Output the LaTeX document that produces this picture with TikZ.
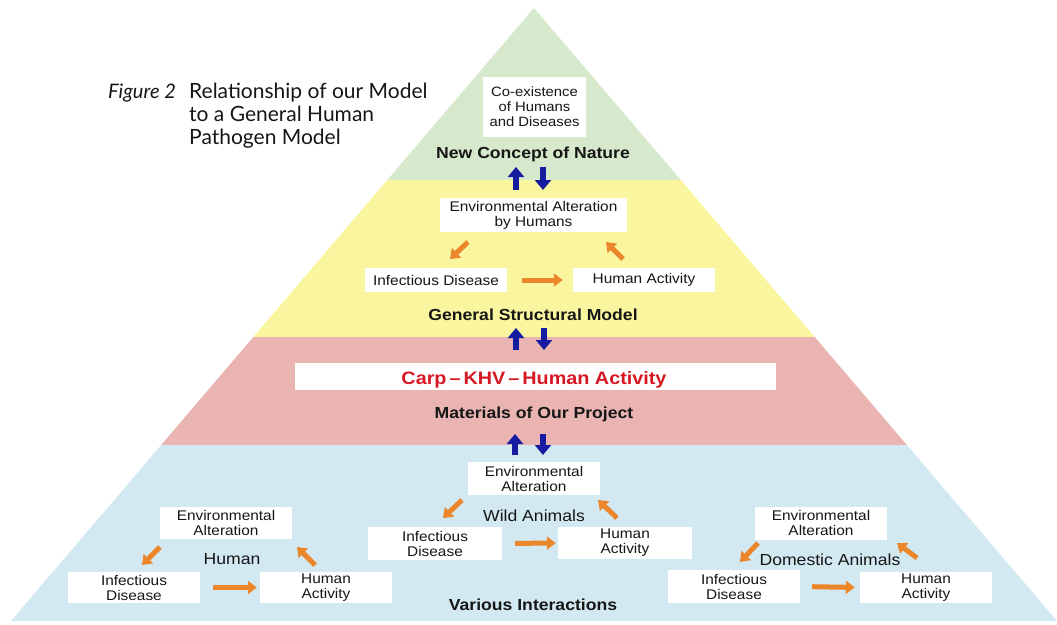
\documentclass[tikz,border=0pt]{standalone}
\usepackage{fontspec}
\setmainfont{Liberation Sans}[FakeStretch=1.1]
\newfontfamily\titlefont{Lato}
\usetikzlibrary{arrows.meta}

\definecolor{bandgreen}{RGB}{214,233,204}
\definecolor{bandyellow}{RGB}{250,246,160}
\definecolor{bandpink}{RGB}{233,180,178}
\definecolor{bandblue}{RGB}{211,233,242}
\definecolor{ink}{RGB}{22,22,22}
\definecolor{flow}{RGB}{236,134,42}
\definecolor{link}{RGB}{22,28,160}
\definecolor{carpred}{RGB}{214,24,36}

\tikzset{
  whitebox/.style={fill=white, inner sep=0pt, align=center, text=ink,
    font=\fontsize{14}{15}\selectfont},
  levelname/.style={anchor=base, inner sep=0pt, text=ink,
    font=\fontsize{16}{18}\selectfont\bfseries},
  groupname/.style={anchor=base, inner sep=0pt, text=ink,
    font=\fontsize{16}{18}\selectfont},
  oarrow/.style={draw=flow, line width=5pt, -{Triangle[width=13pt,length=9pt]}},
  barrow/.style={draw=link, line width=6pt, -{Triangle[width=16pt,length=10pt]}},
}

\begin{document}
\begin{tikzpicture}[x=1pt, y=-1pt]
\useasboundingbox (0,0) rectangle (1057,624);

% pyramid bands
\begin{scope}
  \clip (534,8) -- (11,621) -- (1057,621) -- cycle;
  \fill[bandgreen]  (0,0)   rectangle (1057,180);
  \fill[bandyellow] (0,180) rectangle (1057,337);
  \fill[bandpink]   (0,337) rectangle (1057,445);
  \fill[bandblue]   (0,445) rectangle (1057,624);
\end{scope}

% title
\node[anchor=base west, inner sep=0pt, text=ink, font=\titlefont\fontsize{20}{23}\selectfont\itshape]
  (figlabel) at (108,98) {Figure 2};
\node[anchor=base west, inner sep=0pt, text=ink, font=\titlefont\fontsize{21}{23}\selectfont]
  (figtitle) at (189,98) {\begin{tabular}[t]{@{}l@{}}Relationship of our Model\\to a General Human\\Pathogen Model\end{tabular}};

% top level
\node[whitebox, minimum width=103pt, minimum height=60pt, font=\fontsize{13.5}{15}\selectfont]
  (coex) at (534.5,107) {Co-existence\\of Humans\\and Diseases};
\node[levelname] (nature) at (533,158) {New Concept of Nature};

\coordinate (b1u0) at (516,190); \coordinate (b1u1) at (516,167);
\coordinate (b1d0) at (543,167); \coordinate (b1d1) at (543,190);
\draw[barrow] (b1u0) -- (b1u1);
\draw[barrow] (b1d0) -- (b1d1);

% general structural model
\node[whitebox, minimum width=187pt, minimum height=34pt] (gea) at (533.5,215)
  {Environmental Alteration\\by Humans};
\node[whitebox, minimum width=142pt, minimum height=24pt] (gid) at (436,280) {Infectious Disease};
\node[whitebox, minimum width=142pt, minimum height=24pt] (gha) at (644,280) {Human Activity};
\node[levelname] (general) at (533,320) {General Structural Model};

\coordinate (g1a) at (468,242); \coordinate (g1b) at (450,259);
\coordinate (g2a) at (623,259); \coordinate (g2b) at (606,242);
\draw[oarrow] (g1a) -- (g1b);
\draw[oarrow] (g2a) -- (g2b);
\draw[oarrow, shorten <=15pt, shorten >=10pt] (gid.east) -- (gha.west);

\coordinate (b2u0) at (516,350); \coordinate (b2u1) at (516,328);
\coordinate (b2d0) at (544,328); \coordinate (b2d1) at (544,350);
\draw[barrow] (b2u0) -- (b2u1);
\draw[barrow] (b2d0) -- (b2d1);

% materials of the project
\node[fill=white, minimum width=481pt, minimum height=27pt, inner sep=0pt] (carpbox) at (535.5,376.5) {};
\node[anchor=base, inner sep=0pt, text=carpred, font=\fontsize{18}{20}\selectfont\bfseries]
  (carp) at (534,384) {Carp\,–\,KHV\,–\,Human Activity};
\node[levelname] (materials) at (534,418) {Materials of Our Project};

\coordinate (b3u0) at (515,455); \coordinate (b3u1) at (515,434);
\coordinate (b3d0) at (543,434); \coordinate (b3d1) at (543,455);
\draw[barrow] (b3u0) -- (b3u1);
\draw[barrow] (b3d0) -- (b3d1);

% wild animals
\node[whitebox, minimum width=132pt, minimum height=33pt] (wea) at (534,478.5) {Environmental\\Alteration};
\node[whitebox, minimum width=134pt, minimum height=33pt] (wid) at (435,543.5) {Infectious\\Disease};
\node[whitebox, minimum width=134pt, minimum height=32pt] (wha) at (625,543) {Human\\Activity};
\node[groupname] (wild) at (534,521) {Wild Animals};
\coordinate (w1a) at (462,500); \coordinate (w1b) at (443,518);
\coordinate (w2a) at (617,518); \coordinate (w2b) at (598,500);
\draw[oarrow] (w1a) -- (w1b);
\draw[oarrow] (w2a) -- (w2b);
\draw[oarrow, shorten <=13pt, shorten >=2pt] (wid.east) -- (wha.west);

% human
\node[whitebox, minimum width=132pt, minimum height=32pt] (hea) at (226,522.5) {Environmental\\Alteration};
\node[whitebox, minimum width=132pt, minimum height=31pt] (hid) at (134,587.5) {Infectious\\Disease};
\node[whitebox, minimum width=132pt, minimum height=31pt] (hha) at (326,587.5) {Human\\Activity};
\node[groupname] (human) at (232,564) {Human};
\coordinate (h1a) at (160,547); \coordinate (h1b) at (142,565);
\coordinate (h2a) at (315,565); \coordinate (h2b) at (297,547);
\draw[oarrow] (h1a) -- (h1b);
\draw[oarrow] (h2a) -- (h2b);
\draw[oarrow, shorten <=13pt, shorten >=3pt] (hid.east) -- (hha.west);

% domestic animals
\node[whitebox, minimum width=132pt, minimum height=33pt] (dea) at (821,523) {Environmental\\Alteration};
\node[whitebox, minimum width=132pt, minimum height=33pt] (did) at (734,586.5) {Infectious\\Disease};
\node[whitebox, minimum width=132pt, minimum height=31pt] (dha) at (926,587.5) {Human\\Activity};
\node[groupname] (domestic) at (830,565) {Domestic Animals};
\coordinate (d1a) at (758,543); \coordinate (d1b) at (740,562);
\coordinate (d2a) at (917,558); \coordinate (d2b) at (897,543);
\draw[oarrow] (d1a) -- (d1b);
\draw[oarrow] (d2a) -- (d2b);
\draw[oarrow, shorten <=12pt, shorten >=5pt] (did.east) -- (dha.west);

\node[levelname] (various) at (533,610) {Various Interactions};

\end{tikzpicture}
\end{document}
